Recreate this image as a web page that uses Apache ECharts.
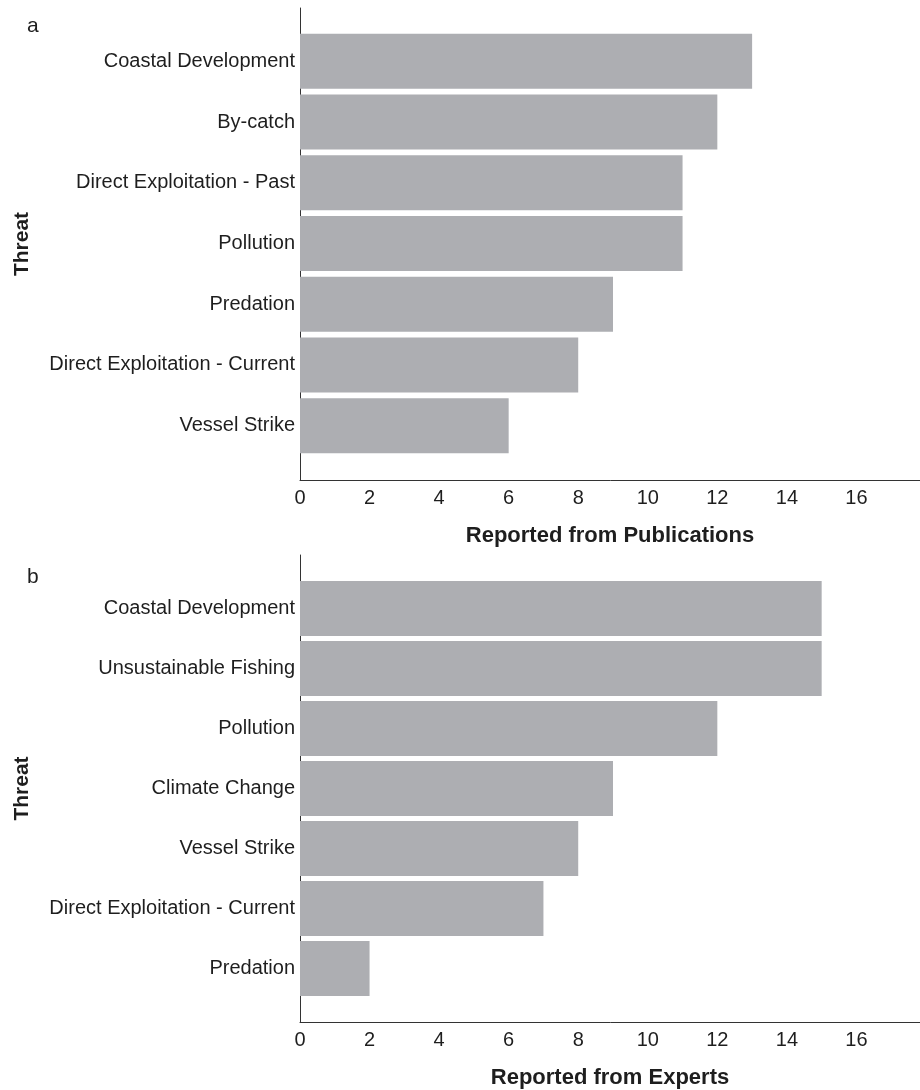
<!DOCTYPE html>
<html>
<head>
<meta charset="utf-8">
<title>Threats reported from publications and experts</title>
<script src="https://cdn.jsdelivr.net/npm/echarts@6/dist/echarts.min.js"></script>
<style>
  html, body { margin: 0; padding: 0; background: #ffffff; }
  #chart { width: 920px; height: 1090px; }
</style>
</head>
<body>
<div id="chart"></div>
<script>
// Panel a: threats reported in publications
const pubThreats = ['Coastal Development', 'By-catch', 'Direct Exploitation - Past', 'Pollution', 'Predation', 'Direct Exploitation - Current', 'Vessel Strike'];
const pubCounts = [13, 12, 11, 11, 9, 8, 6];

// Panel b: threats reported by experts
const expThreats = ['Coastal Development', 'Unsustainable Fishing', 'Pollution', 'Climate Change', 'Vessel Strike', 'Direct Exploitation - Current', 'Predation'];
const expCounts = [15, 15, 12, 9, 8, 7, 2];

// Count axis ticks
const countTicks = [0, 2, 4, 6, 8, 10, 12, 14, 16];
const countMax = 18;

const FONT = '"Liberation Sans", Arial, Helvetica, sans-serif';
const TEXT = '#1e1e1e';
const AXIS = '#333333';
const BAR = '#adaeb2';

const chart = echarts.init(document.getElementById('chart'), null, { renderer: 'canvas' });

// Each panel uses a frame grid (axis lines + tick labels) and a bar grid (categories)
const panels = [
  { frameTop: 8, frameHeight: 472, barTop: 31, barHeight: 425, cats: pubThreats, vals: pubCounts },
  { frameTop: 555, frameHeight: 467, barTop: 578.5, barHeight: 420, cats: expThreats, vals: expCounts }
];

const grids = [], xAxes = [], yAxes = [], series = [];
panels.forEach((p, i) => {
  const gFrame = grids.length;
  grids.push({ left: 300, top: p.frameTop, width: 626, height: p.frameHeight, containLabel: false, outerBoundsMode: 'none' });
  const gBar = grids.length;
  grids.push({ left: 300, top: p.barTop, width: 626, height: p.barHeight, containLabel: false, outerBoundsMode: 'none' });

  xAxes.push({
    type: 'value', gridIndex: gFrame, min: 0, max: countMax, interval: 2,
    axisLine: { show: true, lineStyle: { color: AXIS, width: 1 } },
    axisTick: { show: false },
    splitLine: { show: false },
    axisLabel: {
      margin: 8, color: TEXT, fontFamily: FONT, fontSize: 20,
      formatter: v => countTicks.includes(v) ? String(v) : ''
    }
  });
  xAxes.push({
    type: 'value', gridIndex: gBar, min: 0, max: countMax, show: false
  });

  yAxes.push({
    type: 'value', gridIndex: gFrame, min: 0, max: 1,
    axisLine: { show: true, onZero: false, lineStyle: { color: AXIS, width: 1 } },
    axisTick: { show: false }, axisLabel: { show: false }, splitLine: { show: false },
    name: 'Threat', nameLocation: 'middle', nameGap: 267, nameRotate: 90,
    nameTextStyle: { color: TEXT, fontFamily: FONT, fontSize: 21, fontWeight: 'bold' }
  });
  yAxes.push({
    type: 'category', gridIndex: gBar, data: p.cats, inverse: true,
    axisLine: { show: false }, axisTick: { show: false }, splitLine: { show: false },
    axisLabel: { margin: 5, color: TEXT, fontFamily: FONT, fontSize: 20 }
  });

  series.push({
    type: 'bar', xAxisIndex: gBar, yAxisIndex: gBar, data: p.vals,
    barWidth: 55, itemStyle: { color: BAR }, silent: true
  });
});

const titleStyle = { color: TEXT, fontFamily: FONT, fontSize: 22, fontWeight: 'bold' };
const letterStyle = { color: TEXT, fontFamily: FONT, fontSize: 21, fontWeight: 'normal' };

chart.setOption({
  animation: false,
  backgroundColor: '#ffffff',
  title: [
    { text: 'a', left: 27, top: 16, textStyle: letterStyle, padding: 0 },
    { text: 'b', left: 27, top: 567, textStyle: letterStyle, padding: 0 },
    { text: 'Reported from Publications', left: 610, top: 525, textAlign: 'center', textStyle: titleStyle, padding: 0 },
    { text: 'Reported from Experts', left: 610, top: 1067, textAlign: 'center', textStyle: titleStyle, padding: 0 }
  ],
  grid: grids,
  xAxis: xAxes,
  yAxis: yAxes,
  series: series
});
</script>
</body>
</html>
